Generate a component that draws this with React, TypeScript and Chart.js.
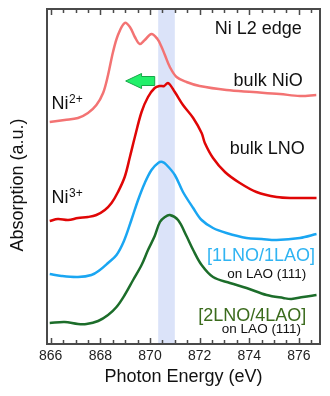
import React, { useEffect, useRef } from "react";
import { Chart, registerables } from "chart.js";

Chart.register(...registerables);

// ---- Data ----
const energyNiO = [865.96, 866.56, 867.1, 867.5, 867.84, 868.11, 868.31, 868.51, 868.71, 868.98, 869.19, 869.39, 869.59, 869.79, 870.06, 870.3, 870.45, 870.6, 870.8, 871.07, 871.47, 872.0, 873.08, 874.16, 875.23, 876.04, 876.7];
const absNiO = [222, 224, 226, 231, 239, 251, 269, 292, 309, 321, 317, 307, 300, 304, 310, 305, 298, 289, 277, 267, 262, 258, 254, 252, 250, 248, 249];

const energyLNO = [865.96, 866.29, 866.7, 867.1, 867.5, 867.84, 868.18, 868.45, 868.71, 868.98, 869.19, 869.39, 869.66, 869.92, 870.19, 870.4, 870.57, 870.73, 871.0, 871.33, 871.74, 872.08, 872.21, 872.54, 873.02, 873.62, 874.29, 875.1, 875.77, 876.71];
const absLNO = [123, 125, 124, 126, 127, 129, 134, 141, 152, 167, 187, 207, 232, 247, 256, 258, 258, 261, 252, 239, 226, 211, 201, 186, 172, 161, 152, 147, 146, 146];

const energy1LNO = [865.96, 866.43, 867.1, 867.64, 867.98, 868.31, 868.65, 868.95, 869.25, 869.52, 869.79, 870.06, 870.33, 870.5, 870.67, 871.0, 871.33, 871.74, 872.08, 872.54, 873.08, 873.89, 874.5, 875.1, 876.04, 876.71];
const abs1LNO = [70, 68, 67, 69, 74, 81, 89, 103, 124, 144, 161, 174, 181, 182, 179, 169, 152, 136, 124, 116, 111, 106, 105, 104, 106, 110];

const energy2LNO = [865.96, 866.56, 867.1, 867.44, 867.91, 868.31, 868.65, 868.98, 869.32, 869.66, 869.92, 870.19, 870.4, 870.6, 870.8, 871.13, 871.47, 871.74, 872.08, 872.54, 873.22, 873.89, 874.7, 875.37, 875.7, 876.17, 876.71];
const abs2LNO = [21, 22, 20, 20, 23, 29, 37, 49, 64, 79, 94, 108, 122, 127, 129, 124, 108, 94, 79, 67, 61, 56, 49, 46, 45, 47, 49];

const xTickLabels = [866, 868, 870, 872, 874, 876];
const bandRange = [870.33, 871.0];
const arrowTipE = 869.02;
const arrowHeadE = 869.66;
const arrowTailE = 870.19;
const arrowY = 263;

const FONT = '"Liberation Sans", Arial, sans-serif';

const toPts = (xs: number[], ys: number[]) => xs.map((x, i) => ({ x, y: ys[i] }));

const decorPlugin = {
  id: "decor",
  beforeDatasetsDraw(chart: any) {
    const { ctx, chartArea, scales } = chart;
    const x = scales.x;
    ctx.save();
    ctx.fillStyle = "#dbe3f9";
    const x0 = x.getPixelForValue(bandRange[0]);
    const x1 = x.getPixelForValue(bandRange[1]);
    ctx.fillRect(x0, chartArea.top, x1 - x0, chartArea.bottom - chartArea.top);
    ctx.restore();
  },
  afterDraw(chart: any) {
    const { ctx, chartArea, scales } = chart;
    const x = scales.x;
    const y = scales.y;
    const { left, right, top, bottom } = chartArea;
    ctx.save();
    // frame
    ctx.strokeStyle = "#4a4a4a";
    ctx.lineWidth = 2;
    ctx.strokeRect(left, top, right - left, bottom - top);
    // inward ticks top & bottom
    ctx.lineWidth = 1.5;
    for (let v = 866; v <= 876.5 + 1e-6; v += 0.5) {
      const px = Math.round(x.getPixelForValue(v)) + 0.5;
      const major = Math.abs(v % 2) < 1e-6;
      const len = major ? 6 : 4;
      ctx.beginPath();
      ctx.moveTo(px, bottom);
      ctx.lineTo(px, bottom - len);
      ctx.moveTo(px, top);
      ctx.lineTo(px, top + len);
      ctx.stroke();
    }

    // texts
    const txt = (s: string, ev: number, yv: number, size: number, color: string, align: CanvasTextAlign) => {
      ctx.font = `${size}px ${FONT}`;
      ctx.fillStyle = color;
      ctx.textAlign = align;
      ctx.textBaseline = "alphabetic";
      ctx.fillText(s, x.getPixelForValue(ev), y.getPixelForValue(yv));
    };
    txt("Ni L2 edge", 876.12, 310, 18, "#111", "right");
    txt("bulk NiO", 876.15, 258, 18, "#111", "right");
    txt("bulk LNO", 876.24, 190, 18, "#111", "right");
    txt("[1LNO/1LAO]", 876.65, 83, 18, "#30b4f2", "right");
    txt("on LAO (111)", 876.3, 66, 13.5, "#111", "right");
    txt("[2LNO/4LAO]", 876.3, 23, 18, "#3b6b1d", "right");
    txt("on LAO (111)", 876.08, 11, 13.5, "#111", "right");

    // Ni2+ / Ni3+ with superscripts
    const ion = (sup: string, ev: number, yv: number) => {
      ctx.font = `18px ${FONT}`;
      ctx.fillStyle = "#111";
      ctx.textAlign = "left";
      ctx.textBaseline = "alphabetic";
      const px = x.getPixelForValue(ev);
      const py = y.getPixelForValue(yv);
      ctx.fillText("Ni", px, py);
      const w = ctx.measureText("Ni").width;
      ctx.font = `12px ${FONT}`;
      ctx.fillText(sup, px + w + 0.5, py - 6);
    };
    ion("2+", 866.03, 235);
    ion("3+", 866.03, 141);

    // green arrow
    const tipX = x.getPixelForValue(arrowTipE);
    const headX = x.getPixelForValue(arrowHeadE);
    const tailX = x.getPixelForValue(arrowTailE);
    const cy = y.getPixelForValue(arrowY);
    ctx.beginPath();
    ctx.moveTo(tipX, cy);
    ctx.lineTo(headX, cy - 7.5);
    ctx.lineTo(headX, cy - 4.5);
    ctx.lineTo(tailX, cy - 4.5);
    ctx.lineTo(tailX, cy + 4.5);
    ctx.lineTo(headX, cy + 4.5);
    ctx.lineTo(headX, cy + 7.5);
    ctx.closePath();
    ctx.fillStyle = "#22f06a";
    ctx.fill();
    ctx.strokeStyle = "#17a648";
    ctx.lineWidth = 1;
    ctx.stroke();

    // axis titles
    ctx.fillStyle = "#111";
    ctx.font = `18px ${FONT}`;
    ctx.textAlign = "center";
    ctx.textBaseline = "alphabetic";
    ctx.fillText("Photon Energy (eV)", (left + right) / 2, 381.5);
    ctx.save();
    ctx.translate(23, 185);
    ctx.rotate(-Math.PI / 2);
    ctx.fillText("Absorption (a.u.)", 0, 0);
    ctx.restore();

    ctx.restore();
  },
};

export default function App() {
  const ref = useRef<HTMLCanvasElement | null>(null);
  useEffect(() => {
    if (!ref.current) return;
    const lineDs = (label: string, xs: number[], ys: number[], color: string) => ({
      label,
      data: toPts(xs, ys),
      borderColor: color,
      backgroundColor: color,
      borderWidth: 2.5,
      pointRadius: 0,
      tension: 0.35,
      fill: false,
    });
    const chart = new Chart(ref.current, {
      type: "line",
      data: {
        datasets: [
          lineDs("bulk NiO", energyNiO, absNiO, "#f37373"),
          lineDs("bulk LNO", energyLNO, absLNO, "#e00606"),
          lineDs("[1LNO/1LAO]", energy1LNO, abs1LNO, "#1aa6f2"),
          lineDs("[2LNO/4LAO]", energy2LNO, abs2LNO, "#1c6d2a"),
        ],
      },
      options: {
        animation: false,
        responsive: false,
        devicePixelRatio: 1,
        layout: { padding: { left: 47, right: 10, top: 9, bottom: 0 } },
        plugins: { legend: { display: false }, tooltip: { enabled: false } },
        scales: {
          x: {
            type: "linear",
            min: 865.85,
            max: 876.85,
            grid: { display: false, drawTicks: false },
            border: { display: false },
            ticks: {
              font: { size: 14, family: FONT },
              color: "#222",
              padding: 4,
              maxRotation: 0,
              autoSkip: false,
            },
            afterBuildTicks: (scale: any) => {
              scale.ticks = xTickLabels.map((v) => ({ value: v }));
            },
            afterFit: (scale: any) => {
              scale.height = 52;
            },
          },
          y: {
            type: "linear",
            display: false,
            min: 0,
            max: 335,
          },
        },
      },
      plugins: [decorPlugin],
    });
    return () => chart.destroy();
  }, []);
  return (
    <div style={{ position: "absolute", left: 0, top: 0, width: 330, height: 396, background: "#fff" }}>
      <canvas ref={ref} width={330} height={396} style={{ display: "block" }} />
    </div>
  );
}
